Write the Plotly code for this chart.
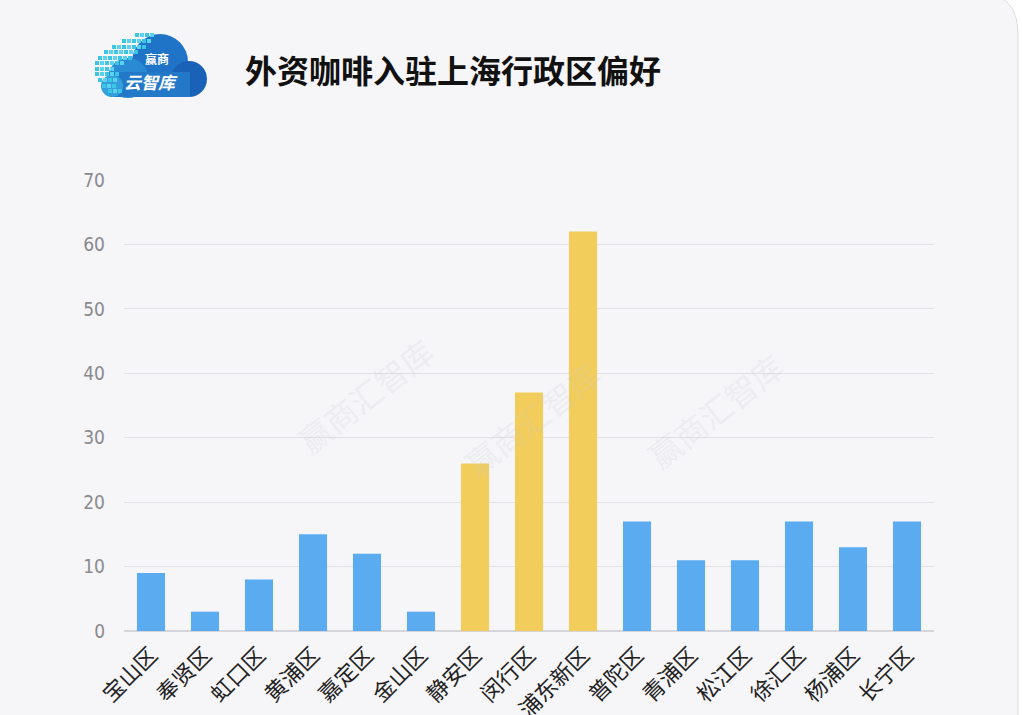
import plotly.graph_objects as go

districts = ["宝山区", "奉贤区", "虹口区", "黄浦区", "嘉定区", "金山区", "静安区", "闵行区",
             "浦东新区", "普陀区", "青浦区", "松江区", "徐汇区", "杨浦区", "长宁区"]
counts = [9, 3, 8, 15, 12, 3, 26, 37, 62, 17, 11, 11, 17, 13, 17]
highlight = ["静安区", "闵行区", "浦东新区"]
y_ticks = [0, 10, 20, 30, 40, 50, 60, 70]

BLUE = "#5aabf0"
GOLD = "#f2cd5b"
colors = [GOLD if d in highlight else BLUE for d in districts]

W, H = 1022, 715
L, R, T, B = 124, 934, 180, 631


def px(x):
    return (x - L) / (R - L)


def py(y):
    return (B - y) / (B - T)


fig = go.Figure()
fig.add_trace(go.Bar(x=districts, y=counts, marker=dict(color=colors, line=dict(width=0)),
                     hoverinfo="x+y"))

shapes = []
# card background
card = (f"M {px(-5)},{py(720)} L {px(-5)},{py(-5)} L {px(985)},{py(-5)} "
        f"Q {px(1018)},{py(-5)} {px(1018)},{py(35)} L {px(1018)},{py(720)} Z")
shapes.append(dict(type="path", path=card, xref="paper", yref="paper",
                   fillcolor="#f6f5f8", line=dict(color="#dcdbe0", width=1), layer="below"))


def circ(cx, cy, r, col):
    return dict(type="circle", xref="paper", yref="paper",
                x0=px(cx - r), x1=px(cx + r), y0=py(cy + r), y1=py(cy - r),
                fillcolor=col, line=dict(width=0), layer="above")


# logo cloud
shapes.append(circ(160, 62, 28, "#1f74c8"))
shapes.append(circ(189, 79, 18, "#1a62b8"))
shapes.append(circ(128, 78, 20, "#2a8ad4"))
shapes.append(dict(type="rect", xref="paper", yref="paper", x0=px(110), x1=px(190),
                   y0=py(97), y1=py(72), fillcolor="#2478c8", line=dict(width=0)))
shapes.append(circ(112, 86, 11, "#33a0dc"))
# pixel squares
rows = [(33, 135, 4), (39, 122, 6), (45, 112, 7), (50, 104, 7), (56, 98, 7),
        (61, 95, 6), (67, 95, 4), (72, 95, 5), (78, 98, 4), (84, 102, 3), (89, 108, 3)]
for yy, x0, n in rows:
    for k in range(n):
        xx = x0 + k * 5
        shapes.append(dict(type="rect", xref="paper", yref="paper",
                           x0=px(xx), x1=px(xx + 4), y0=py(yy + 4), y1=py(yy),
                           fillcolor="#3cc6e6" if k % 2 == 0 else "#5ad3ee",
                           line=dict(width=0)))

annotations = [
    dict(text="<b>外资咖啡入驻上海行政区偏好</b>", x=px(243), y=py(69), xref="paper", yref="paper",
         xanchor="left", yanchor="middle", showarrow=False,
         font=dict(family="Noto Sans CJK SC", size=32, color="#111111")),
    dict(text="<b>赢商</b>", x=px(157), y=py(59), xref="paper", yref="paper",
         xanchor="center", yanchor="middle", showarrow=False,
         font=dict(family="Noto Sans CJK SC", size=12, color="#ffffff")),
    dict(text="<b><i>云智库</i></b>", x=px(151), y=py(81), xref="paper", yref="paper",
         xanchor="center", yanchor="middle", showarrow=False,
         font=dict(family="Noto Sans CJK SC", size=17, color="#ffffff")),
]
for wx, wy in [(285, 395), (532, 418), (795, 410)]:
    annotations.append(dict(text="赢商汇智库", x=px(wx), y=py(wy), xref="paper", yref="paper",
                            showarrow=False, textangle=-38,
                            font=dict(family="Noto Sans CJK SC", size=32,
                                      color="rgba(200,200,212,0.2)")))

fig.update_layout(
    width=W, height=H,
    margin=dict(l=L, r=W - R, t=T, b=H - B),
    paper_bgcolor="#ffffff", plot_bgcolor="rgba(0,0,0,0)",
    bargap=0.48, showlegend=False,
    shapes=shapes, annotations=annotations,
    xaxis=dict(tickangle=-45, tickfont=dict(family="Noto Sans CJK SC", size=22, color="#222222"),
               ticklabelstandoff=6, automargin=False,
               showgrid=False, showline=False, ticks="", zeroline=False, fixedrange=True),
    yaxis=dict(range=[0, 70], tickvals=y_ticks, ticktext=[str(v) for v in y_ticks],
               showgrid=True, gridcolor="#e2e1e5", gridwidth=1, automargin=False,
               zeroline=True, zerolinecolor="#d5d4d9", zerolinewidth=1.5,
               ticklabelstandoff=18,
               tickfont=dict(family="DejaVu Sans Condensed, Liberation Sans Narrow, sans-serif",
                             size=19, color="#8a8a8e"),
               fixedrange=True),
)

fig.write_html("out.html")
